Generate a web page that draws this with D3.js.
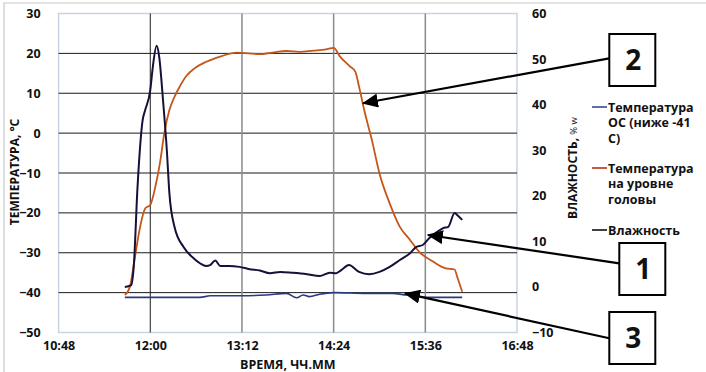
<!DOCTYPE html>
<html>
<head>
<meta charset="utf-8">
<script src="https://cdn.jsdelivr.net/npm/d3@7"></script>
<style>
  body { margin: 0; background: #fff; }
  text { font-family: "Open Sans", "DejaVu Sans", sans-serif; font-weight: bold; fill: #111; }
</style>
</head>
<body>
<svg width="706" height="372"></svg>
<script>
// --- data ---
const xTickLabels = ["10:48", "12:00", "13:12", "14:24", "15:36", "16:48"];
const leftTicks = [-50, -40, -30, -20, -10, 0, 10, 20, 30];
const rightTicks = [-10, 0, 10, 20, 30, 40, 50, 60];

// Температура ОС (ниже -41 С), left axis
const envTimes = ["11:40", "12:39", "12:47", "13:10", "13:31", "13:47", "13:55", "14:00", "14:05", "14:13", "14:24", "14:50", "15:10", "15:21", "15:39", "16:05"];
const envValues = [-41.2, -41.2, -40.8, -40.8, -40.6, -40.2, -41.3, -40.6, -41.0, -40.4, -40.0, -40.2, -40.2, -40.6, -41.2, -41.2];

// Температура на уровне головы, left axis
const headTimes = ["11:40", "11:44", "11:48", "11:52", "11:56", "12:00", "12:04", "12:08", "12:11", "12:15", "12:19", "12:23", "12:28", "12:35", "12:44", "12:55", "13:08", "13:18", "13:26", "13:36", "13:47", "13:57", "14:08", "14:18", "14:24", "14:29", "14:37", "14:41", "14:44", "14:48", "14:54", "15:00", "15:08", "15:16", "15:24", "15:31", "15:42", "15:52", "15:59", "16:01", "16:05"];
const headValues = [-40.6, -38.5, -31.0, -23.5, -18.9, -18.0, -13.4, -6.7, 0.0, 5.8, 9.1, 11.6, 14.2, 16.3, 17.9, 19.2, 20.2, 20.0, 19.8, 20.2, 20.6, 20.4, 20.7, 21.0, 21.4, 19.2, 16.7, 15.4, 11.6, 5.8, -1.7, -10.1, -17.6, -23.5, -26.8, -29.7, -32.2, -33.9, -34.2, -36.0, -39.8];

// Влажность, right axis
const humTimes = ["11:40", "11:45", "11:47", "11:50", "11:54", "11:56", "12:00", "12:02", "12:05", "12:07", "12:10", "12:13", "12:15", "12:19", "12:26", "12:34", "12:39", "12:44", "12:47", "12:51", "12:55", "13:02", "13:10", "13:18", "13:26", "13:34", "13:42", "13:52", "14:03", "14:13", "14:21", "14:26", "14:30", "14:36", "14:44", "14:52", "15:00", "15:08", "15:16", "15:24", "15:29", "15:34", "15:39", "15:44", "15:50", "15:54", "15:59", "16:01", "16:05"];
const humValues = [0.0, 0.4, 4.4, 22.0, 36.6, 38.8, 43.2, 48.3, 52.9, 50.5, 41.0, 30.0, 20.6, 13.2, 8.8, 6.3, 5.2, 4.6, 4.8, 5.8, 4.6, 4.6, 4.4, 3.9, 3.6, 3.0, 3.3, 3.1, 2.8, 2.4, 3.1, 3.0, 3.7, 4.8, 3.3, 2.8, 3.3, 4.4, 5.9, 7.4, 8.8, 9.2, 10.7, 11.8, 12.9, 13.2, 16.2, 15.8, 14.7];

const legendLabels = [["Температура", "ОС (ниже -41", "С)"], ["Температура", "на уровне", "головы"], ["Влажность"]];

// numbered callouts: label, point in time, value, axis it belongs to
const calloutLabels = ["2", "1", "3"];
const calloutTimes = ["14:47", "15:38", "15:20"];
const calloutValues = [7.5, 11.4, -40.2];
const calloutAxis = ["left", "right", "left"];

// --- layout ---
const svg = d3.select("svg");
const margin = { top: 13.5, left: 58.6 };
const width = 458.4;
const height = 319;
const g = svg.append("g").attr("transform", `translate(${margin.left},${margin.top})`);

const parseT = s => { const [h, m] = s.split(":").map(Number); return new Date(2000, 0, 1, h, m); };

const x = d3.scaleTime()
  .domain([parseT(xTickLabels[0]), parseT(xTickLabels[xTickLabels.length - 1])])
  .range([0, width]);
const yL = d3.scaleLinear().domain([-50, 30]).range([height, 0]);
const yR = d3.scaleLinear().domain([-10, 60]).range([height, 0]);

// outer chart frame (only top and left visible)
svg.append("path").attr("d", "M4,740 V3 H720").attr("fill", "none").attr("stroke", "#c8c8c8").attr("stroke-width", 1.2);

// plot area border
g.append("rect").attr("width", width).attr("height", height)
  .attr("fill", "#fff").attr("stroke", "#c9d3e4").attr("stroke-width", 1.5);

// horizontal gridlines
g.selectAll(".hgrid").data(leftTicks.filter(d => d > -50 && d < 30)).enter()
  .append("line")
  .attr("x1", 0).attr("x2", width)
  .attr("y1", d => yL(d)).attr("y2", d => yL(d))
  .attr("stroke", "#1a1a1a").attr("stroke-width", 1);

// vertical gridlines
g.selectAll(".vgrid").data(xTickLabels.slice(1, -1)).enter()
  .append("line")
  .attr("x1", d => x(parseT(d))).attr("x2", d => x(parseT(d)))
  .attr("y1", 0).attr("y2", height)
  .attr("stroke", (d, i) => i === 0 ? "#1a1a1a" : "#8a8a8a")
  .attr("stroke-width", (d, i) => i === 0 ? 1 : 1.5);

// axes
const xAxis = g.append("g").attr("transform", `translate(0,${height})`)
  .call(d3.axisBottom(x).tickValues(xTickLabels.map(parseT)).tickFormat(d3.timeFormat("%H:%M")).tickSize(0).tickPadding(9));
const lAxis = g.append("g")
  .call(d3.axisLeft(yL).tickValues(leftTicks).tickSize(0).tickPadding(18));
const rAxis = g.append("g").attr("transform", `translate(${width},0)`)
  .call(d3.axisRight(yR).tickValues(rightTicks).tickSize(0).tickPadding(15));
[xAxis, lAxis, rAxis].forEach(a => {
  a.select(".domain").remove();
  a.selectAll("text").attr("font-size", 12.5).attr("font-family", null).style("fill", "#111");
});

// lines
const mkLine = yScale => d3.line().curve(d3.curveMonotoneX).x(d => x(parseT(d[0]))).y(d => yScale(d[1]));
g.append("path").datum(d3.zip(envTimes, envValues))
  .attr("d", mkLine(yL)).attr("fill", "none").attr("stroke", "#283a84").attr("stroke-width", 1.6);
g.append("path").datum(d3.zip(headTimes, headValues))
  .attr("d", mkLine(yL)).attr("fill", "none").attr("stroke", "#c4561a").attr("stroke-width", 1.8);
g.append("path").datum(d3.zip(humTimes, humValues))
  .attr("d", mkLine(yR)).attr("fill", "none").attr("stroke", "#16103a").attr("stroke-width", 2);

// axis titles
svg.append("text").attr("transform", "translate(19,172) rotate(-90)")
  .attr("text-anchor", "middle").attr("font-size", 12).text("ТЕМПЕРАТУРА, °C");
const rt = svg.append("text").attr("transform", "translate(577,168) rotate(-90)")
  .attr("text-anchor", "middle").attr("font-size", 12);
rt.append("tspan").text("ВЛАЖНОСТЬ, ");
rt.append("tspan").attr("font-size", 9.5).attr("font-weight", "normal").text("% w");
svg.append("text").attr("x", margin.left + width / 2).attr("y", 369)
  .attr("text-anchor", "middle").attr("font-size", 12.5).text("ВРЕМЯ, ЧЧ.ММ");

// legend
const legendColors = ["#3a4a8e", "#b5321f", "#111"];
const legendY = [107, 168, 230];
legendLabels.forEach((lines, i) => {
  svg.append("line").attr("x1", 592).attr("x2", 607)
    .attr("y1", legendY[i]).attr("y2", legendY[i])
    .attr("stroke", legendColors[i]).attr("stroke-width", 1.6);
  const t = svg.append("text").attr("x", 608).attr("y", legendY[i] + 4.5).attr("font-size", 12.5);
  lines.forEach((s, j) => t.append("tspan").attr("x", 608).attr("dy", j ? 15.8 : 0).text(s));
});

// callouts: boxes with numbers and arrows
const defs = svg.append("defs");
defs.append("marker").attr("id", "ah")
  .attr("markerUnits", "userSpaceOnUse").attr("markerWidth", 16).attr("markerHeight", 14)
  .attr("refX", 15).attr("refY", 7).attr("orient", "auto")
  .append("path").attr("d", "M0,0 L16,7 L0,14 Z").attr("fill", "#000");

const boxX = [609.3, 619.3, 609.3];
const boxY = [34, 243, 312];
const anchorY = [58.3, 263.3, 338.3];
calloutLabels.forEach((lab, i) => {
  const tx = margin.left + x(parseT(calloutTimes[i]));
  const ty = margin.top + (calloutAxis[i] === "left" ? yL : yR)(calloutValues[i]);
  svg.append("line").attr("x1", boxX[i]).attr("y1", anchorY[i]).attr("x2", tx).attr("y2", ty)
    .attr("stroke", "#000").attr("stroke-width", 2.2).attr("marker-end", "url(#ah)");
  svg.append("rect").attr("x", boxX[i]).attr("y", boxY[i]).attr("width", 46).attr("height", 52)
    .attr("fill", "#fff").attr("stroke", "#000").attr("stroke-width", 2);
  svg.append("text").attr("x", boxX[i] + 24).attr("y", boxY[i] + 36)
    .attr("text-anchor", "middle").attr("font-size", 28).text(lab);
});
</script>
</body>
</html>
